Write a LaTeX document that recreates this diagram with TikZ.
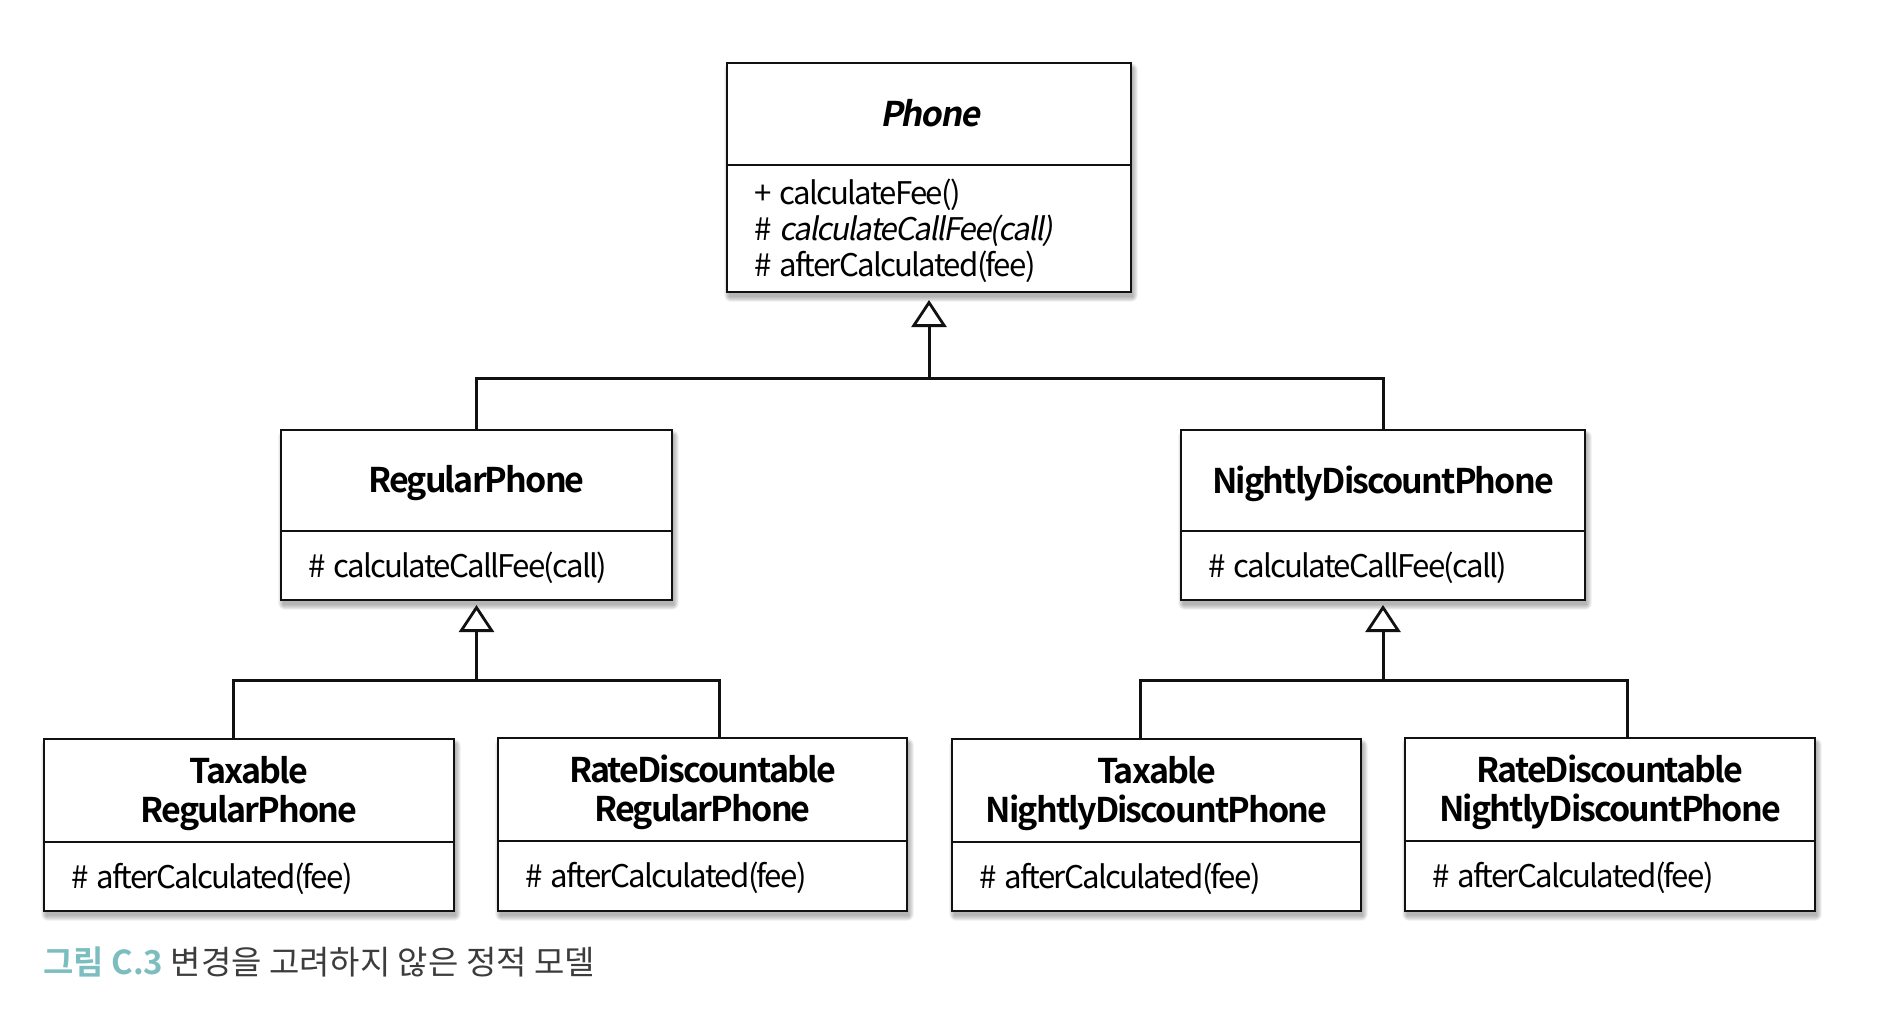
\documentclass[tikz,border=0pt]{standalone}
\usepackage{fontspec}
\setmainfont{Noto Sans CJK KR}[BoldFont={Noto Sans CJK KR Bold}]
\newfontfamily\umlfont{Noto Sans CJK KR}[
  LetterSpace=-5.5,
  BoldFont={Noto Sans CJK KR Bold},
  ItalicFont={Noto Sans CJK KR},
  ItalicFeatures={FakeSlant=0.18},
  BoldItalicFont={Noto Sans CJK KR Bold},
  BoldItalicFeatures={FakeSlant=0.18}]
\usetikzlibrary{calc,arrows.meta}
\definecolor{capteal}{RGB}{124,190,191}
\definecolor{capgray}{RGB}{60,60,60}
\definecolor{ink}{RGB}{17,17,17}
\newcommand\namefont{\umlfont\fontsize{34}{39}\selectfont\bfseries}
\newcommand\methfont{\umlfont\fontsize{31.2}{36}\selectfont}
\newcommand\vis{\hspace{0.25em}}
\newcommand\namenudge{3}
\tikzset{
  boxframe/.style={draw=ink, line width=2.6pt, fill=white, inner sep=0pt, outer sep=0pt, anchor=north west},
  divline/.style={draw=ink, line width=2pt},
  nametext/.style={inner sep=0pt, align=center, font=\namefont, text=black},
  methtext/.style={inner sep=0pt, align=left, font=\methfont, text=black, anchor=west},
  conn/.style={draw=ink, line width=3pt},
  gen/.style={conn, -{Triangle[open, length=27pt, width=35pt, line width=2.8pt]}},
}
% #1 name, #2 x, #3 y, #4 w, #5 h name, #6 h methods, #7 title, #8 methods
\newcommand\umlclass[8]{%
  \foreach \k in {0,...,7}{%
    \fill[black, opacity=0.04, rounded corners=\k pt]
      ($(#2+2-\k*0.7, #3+5-\k*0.7)$) rectangle ++(#4+\k*1.4, #5+#6+\k*1.4);}
  \node[boxframe, minimum width=#4, minimum height=#5+#6] (#1) at (#2,#3) {};
  \draw[divline] ($(#1.north west)+(0,#5)$) -- ($(#1.north east)+(0,#5)$);
  \node[nametext] (#1-name) at ($(#1.north)+(0,#5/2+\namenudge)$) {#7};
  \node[methtext] (#1-meth) at ($(#1.north west)+(27,#5+#6/2+2)$) {#8};
}
\begin{document}
\begin{tikzpicture}[x=1pt, y=-1pt]
\useasboundingbox[fill=white] (0,0) rectangle (1894,1022);

\renewcommand\namenudge{-0.5}
\umlclass{phone}{727}{63}{404}{102}{127}{\textit{Phone}}{+\vis calculateFee()\\\#\vis \textit{calculateCallFee(call)}\\\#\vis afterCalculated(fee)}
\renewcommand\namenudge{3}
\umlclass{regular}{281}{430}{391}{101}{69}{RegularPhone}{\#\vis calculateCallFee(call)}
\umlclass{nightly}{1181}{430}{404}{101}{69}{NightlyDiscountPhone}{\#\vis calculateCallFee(call)}
\umlclass{taxR}{44}{739}{410}{103}{69}{Taxable\\RegularPhone}{\#\vis afterCalculated(fee)}
\umlclass{rateR}{498}{738}{409}{103}{70}{RateDiscountable\\RegularPhone}{\#\vis afterCalculated(fee)}
\umlclass{taxN}{952}{739}{409}{103}{69}{Taxable\\NightlyDiscountPhone}{\#\vis afterCalculated(fee)}
\umlclass{rateN}{1405}{738}{410}{103}{70}{RateDiscountable\\NightlyDiscountPhone}{\#\vis afterCalculated(fee)}

% hubs, tips and attachment points
\coordinate (phoneTip) at ($(phone.south)+(0,8)$);
\coordinate (hubTop) at ($(phone.south)+(0,86)$);
\coordinate (regTip) at ($(regular.south)+(0,5)$);
\coordinate (hubReg) at ($(regular.south)+(0,80)$);
\coordinate (nigTip) at ($(nightly.south)+(0,5)$);
\coordinate (hubNig) at ($(nightly.south)+(0,80)$);
\coordinate (taxRtop) at ($(taxR.north west)+(189,0)$);
\coordinate (rateRtop) at ($(rateR.north west)+(221,0)$);
\coordinate (taxNtop) at ($(taxN.north west)+(188,0)$);
\coordinate (rateNtop) at ($(rateN.north west)+(222,0)$);

\draw[conn] (regular.north) |- (hubTop) -| (nightly.north);
\draw[gen] (hubTop) -- (phoneTip);
\draw[conn] (taxRtop) |- (hubReg) -| (rateRtop);
\draw[gen] (hubReg) -- (regTip);
\draw[conn] (taxNtop) |- (hubNig) -| (rateNtop);
\draw[gen] (hubNig) -- (nigTip);

\node[anchor=west, inner sep=0pt, font=\fontsize{33}{40}\selectfont] (caption) at (43,962)
  {\textcolor{capteal}{\bfseries 그림 C.3} \textcolor{capgray}{변경을 고려하지 않은 정적 모델}};
\end{tikzpicture}
\end{document}
